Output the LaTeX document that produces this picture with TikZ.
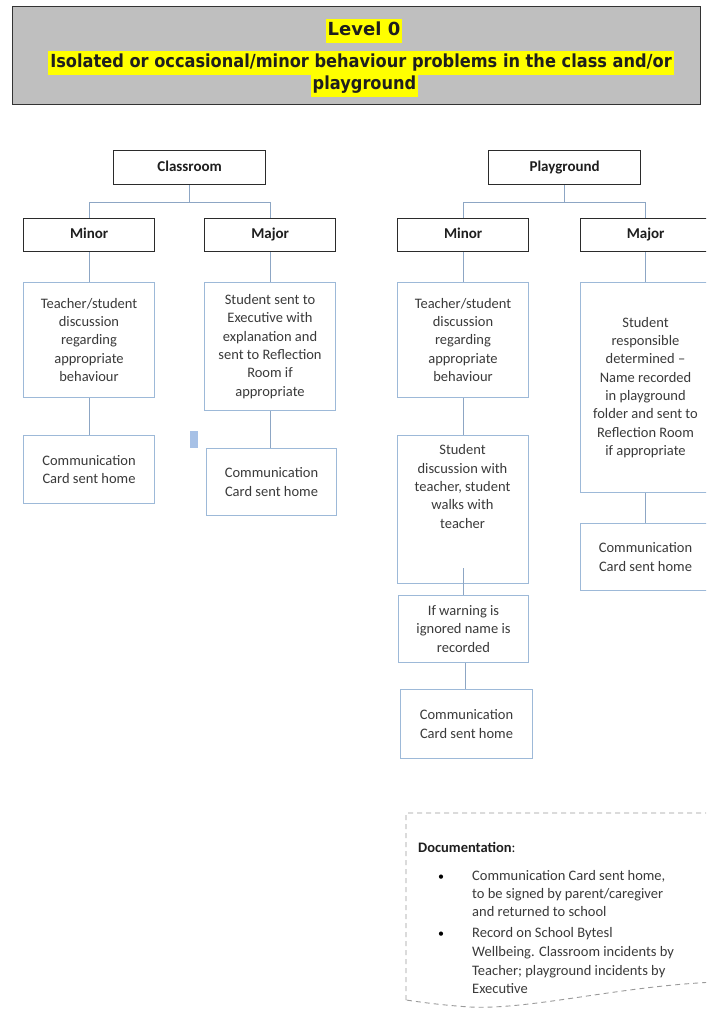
\documentclass[tikz,border=0pt]{standalone}
\usepackage{fontspec}
\setmainfont{Carlito}
\newfontfamily\hdrfont{DejaVu Sans}
\definecolor{hdrgray}{HTML}{BFBFBF}
\definecolor{hdrborder}{HTML}{333333}
\definecolor{hlyellow}{HTML}{FFFF00}
\definecolor{catline}{HTML}{2B2B2B}
\definecolor{procline}{HTML}{9DB9D8}
\definecolor{connc}{HTML}{8DA6C4}
\definecolor{txtgray}{HTML}{3A3A3A}
\definecolor{txtdark}{HTML}{1E1E1E}
\definecolor{strayc}{HTML}{A7C1E6}
\definecolor{docline}{HTML}{9A9A9A}
\tikzset{
  hl/.style={fill=hlyellow, text=txtdark, inner xsep=2pt, inner ysep=3pt,
    text height=13.5pt, text depth=4.5pt,
    font=\hdrfont\bfseries\fontsize{18}{22}\selectfont},
  catbox/.style={draw=catline, line width=1.3pt, fill=white, anchor=north west,
    inner sep=0pt, minimum height=33pt, text=txtdark, text height=10.5pt,
    text depth=3.5pt, font=\bfseries\fontsize{15}{18}\selectfont},
  procbox/.style={draw=procline, line width=1pt, anchor=north west, inner sep=0pt,
    align=center, text=txtgray, font=\fontsize{14.5}{18.3}\selectfont},
  plaintxt/.style={align=center, text=txtgray, inner sep=0pt,
    font=\fontsize{14.5}{18.3}\selectfont},
  conn/.style={draw=connc, line width=0.9pt},
  docln/.style={anchor=west, inner sep=0pt, text=txtgray, text height=10.5pt,
    text depth=3.5pt, font=\fontsize{14.5}{18}\selectfont},
}
\begin{document}
\begin{tikzpicture}[x=1pt,y=-1pt]
\clip (0,0) rectangle (706,1016);
\fill[white] (0,0) rectangle (706,1016);

% header
\node[draw=hdrborder, line width=1.3pt, fill=hdrgray, anchor=north west,
  inner sep=0pt, minimum width=688pt, minimum height=98pt] (hdr) at (11.5,6) {};
\node[hl] (h1) at (364,31) {Level 0};
\node[hl] (h2) at (361,63) {\scalebox{0.9}[1]{Isolated or occasional/minor behaviour problems in the class and/or}};
\node[hl] (h3) at (364.5,85) {\scalebox{0.9}[1]{playground}};

% category boxes
\node[catbox, minimum width=152pt, minimum height=34pt] (cls) at (113,150) {Classroom};
\node[catbox, minimum width=152pt, minimum height=34pt] (pg) at (488,150) {Playground};
\node[catbox, minimum width=131pt] (cmin) at (23,218) {Minor};
\node[catbox, minimum width=131pt] (cmaj) at (204,218) {Major};
\node[catbox, minimum width=131pt] (pmin) at (397,218) {Minor};
\node[catbox, minimum width=130pt] (pmaj) at (580,218) {Major};

% process boxes
\node[procbox, minimum width=131pt, minimum height=115pt] (cminA) at (23,282)
  {Teacher/student\\discussion\\regarding\\appropriate\\behaviour};
\node[procbox, minimum width=131pt, minimum height=68pt] (cminB) at (23,435)
  {Communication\\Card sent home};
\node[procbox, minimum width=131pt, minimum height=128pt] (cmajA) at (204,282)
  {Student sent to\\Executive with\\explanation and\\sent to Reflection\\Room if\\appropriate};
\node[procbox, minimum width=130pt, minimum height=67pt] (cmajB) at (206,448)
  {Communication\\Card sent home};
\node[procbox, minimum width=131pt, minimum height=115pt] (pminA) at (397,282)
  {Teacher/student\\discussion\\regarding\\appropriate\\behaviour};
\node[procbox, minimum width=131pt, minimum height=148pt] (pminB) at (397,435) {};
\node[plaintxt] (pminBt) at (462.5,486.5)
  {Student\\discussion with\\teacher, student\\walks with\\teacher};
\node[procbox, minimum width=130pt, minimum height=67pt] (pminC) at (398,595)
  {If warning is\\ignored name is\\recorded};
\node[procbox, minimum width=132pt, minimum height=69pt] (pminD) at (400,689)
  {Communication\\Card sent home};
\node[procbox, minimum width=130pt, minimum height=210pt] (pmajA) at (580,282)
  {Student\\responsible\\determined –\\Name recorded\\in playground\\folder and sent to\\Reflection Room\\if appropriate};
\node[procbox, minimum width=130pt, minimum height=67pt] (pmajB) at (580,523)
  {Communication\\Card sent home};

% stray mark
\node[fill=strayc, anchor=north west, inner sep=0pt, minimum width=8pt,
  minimum height=17pt] (blip) at (190,431) {};

% connectors
\draw[conn] (cls.south) -- ++(0,17) coordinate (cj) -| (cmin.north);
\draw[conn] (cj) -| (cmaj.north);
\draw[conn] (pg.south) -- ++(0,17) coordinate (pj) -| (pmin.north);
\draw[conn] (pj) -| (pmaj.north);
\draw[conn] (cmin.south) -- (cmin.south |- cminA.north);
\draw[conn] (cminA.south) -- (cminA.south |- cminB.north);
\draw[conn] (cmaj.south) -- (cmaj.south |- cmajA.north);
\draw[conn] (cmajA.south) -- (cmajA.south |- cmajB.north);
\draw[conn] (pmin.south) -- (pmin.south |- pminA.north);
\draw[conn] (pminA.south) -- (pminA.south |- pminB.north);
\draw[conn] ([yshift=16pt]pminB.south) -- (pminB.south |- pminC.north);
\draw[conn] ([xshift=2pt]pminC.south) -- ([xshift=2pt]pminC.south |- pminD.north);
\draw[conn] (pmaj.south) -- (pmaj.south |- pmajA.north);
\draw[conn] (pmajA.south) -- (pmajA.south |- pmajB.north);

% documentation
\draw[docline, line width=0.9pt, dash pattern=on 5pt off 4pt]
  (406,1000) -- (406,813) -- (716,813) -- (716,982)
  .. controls (620,986) and (530,1010) .. (470,1007)
  .. controls (440,1005) and (420,1002) .. (406,1000);
\node[docln, text=txtdark] (doct) at (418,849) {\textbf{Documentation}:};
\node[docln, text=black] (bul1) at (438,877) {\large •};
\node[docln] (d1) at (472,877) {Communication Card sent home,};
\node[docln] (d2) at (472,895) {to be signed by parent/caregiver};
\node[docln] (d3) at (472,913) {and returned to school};
\node[docln, text=black] (bul2) at (438,934) {\large •};
\node[docln] (d4) at (472,934) {Record on School Bytesl};
\node[docln] (d5) at (472,953) {Wellbeing. Classroom incidents by};
\node[docln] (d6) at (472,972) {Teacher; playground incidents by};
\node[docln] (d7) at (472,990) {Executive};
\end{tikzpicture}
\end{document}
